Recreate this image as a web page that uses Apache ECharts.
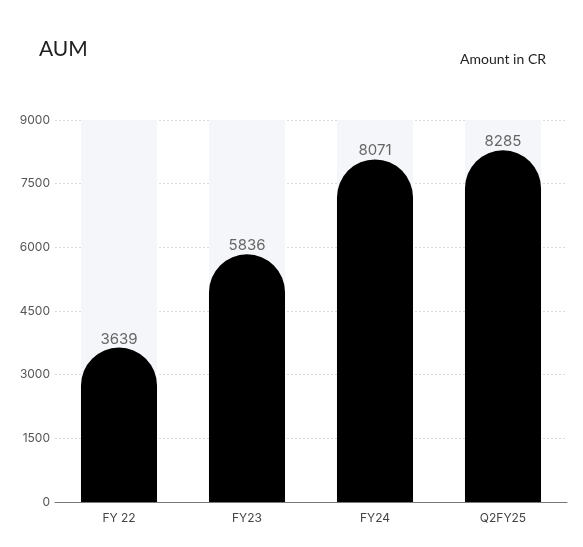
<!DOCTYPE html>
<html><head><meta charset="utf-8">
<script src="https://cdn.jsdelivr.net/npm/echarts@6/dist/echarts.min.js"></script>
<style>html,body{margin:0;padding:0;background:#fff}#c{width:583px;height:547px}</style>
</head><body><div id="c"></div>
<script>
const categories = ['FY 22', 'FY23', 'FY24', 'Q2FY25'];
const aum = [3639, 5836, 8071, 8285];
const yTicks = [0, 1500, 3000, 4500, 6000, 7500, 9000];

const chart = echarts.init(document.getElementById('c'));
chart.setOption({
  animation: false,
  title: [
    {text: 'AUM', left: 34, top: 34, textStyle: {fontFamily: 'Lato', fontSize: 21, fontWeight: 'normal', color: '#222'}},
    {text: 'Amount in CR', right: 32, top: 47, textStyle: {fontFamily: 'Lato', fontSize: 14, fontWeight: 'normal', color: '#222'}}
  ],
  grid: {left: 55, right: 16, top: 120, bottom: 45},
  xAxis: {
    type: 'category', data: categories,
    axisLine: {lineStyle: {color: '#777'}},
    axisTick: {show: false},
    axisLabel: {color: '#444', fontSize: 12, fontFamily: 'Inter', margin: 10}
  },
  yAxis: {
    type: 'value', min: yTicks[0], max: yTicks[yTicks.length - 1], interval: 1500,
    axisLabel: {color: '#555', fontSize: 12, fontFamily: 'Inter', margin: 5, formatter: v => String(v)},
    splitLine: {lineStyle: {type: [2, 2], color: '#dadada'}}
  },
  series: [{
    type: 'bar', data: aum, barWidth: '59.4%',
    showBackground: true,
    backgroundStyle: {color: '#f5f6fa'},
    itemStyle: {color: '#000', borderRadius: [38, 38, 0, 0]},
    label: {show: true, position: 'top', color: '#666', fontSize: 15, fontFamily: 'Inter', distance: 1}
  }]
});
</script></body></html>
